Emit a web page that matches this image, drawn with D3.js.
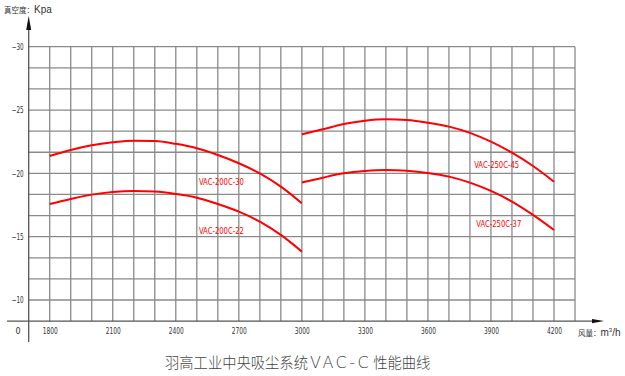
<!DOCTYPE html>
<html>
<head>
<meta charset="utf-8">
<script src="https://cdn.jsdelivr.net/npm/d3@7"></script>
<style>
html,body{margin:0;padding:0;background:#fff;}
svg{display:block;}
</style>
</head>
<body>
<svg id="chart" width="625" height="376"></svg>
<script>
// ---- data ----
const flow200 = [1800,1900,2000,2100,2200,2300,2400,2500,2600,2700,2800,2900,3000];
const vac200_30 = [-21.37,-21.85,-22.22,-22.45,-22.58,-22.56,-22.33,-21.98,-21.45,-20.8,-20.0,-18.95,-17.64];
const vac200_22 = [-17.58,-17.98,-18.32,-18.53,-18.61,-18.56,-18.37,-18.08,-17.58,-16.98,-16.19,-15.14,-13.82];
const flow250 = [3000,3100,3200,3300,3400,3500,3600,3700,3800,3900,4000,4100,4200];
const vac250_45 = [-23.09,-23.48,-23.9,-24.16,-24.27,-24.21,-24.0,-23.69,-23.2,-22.5,-21.63,-20.58,-19.34];
const vac250_37 = [-19.27,-19.66,-20.0,-20.19,-20.27,-20.21,-20.03,-19.74,-19.27,-18.61,-17.77,-16.72,-15.53];
const seriesNames = ["VAC-200C-30","VAC-200C-22","VAC-250C-45","VAC-250C-37"];
const xTicks = [1800,2100,2400,2700,3000,3300,3600,3900,4200];
const yTicks = [-30,-25,-20,-15,-10];
const yLabel = "真空度：";
const yUnit = "Kpa";
const xLabel = "风量：";
const titleA = "羽高工业中央吸尘系统";
const titleB = "VAC-C";
const titleC = "性能曲线";

const svg = d3.select("#chart");
const x = d3.scaleLinear().domain([1700,4300]).range([28.7,575]);
const y = d3.scaleLinear().domain([-30,-10]).range([46.7,300]);
const yBottom = -30 + 13*5/3;
const narrow = "'Liberation Sans Narrow','DejaVu Sans Condensed',sans-serif";

// grid
const g = svg.append("g");
const vLines = d3.range(1800, 4301, 100);
g.selectAll("line.v").data(vLines).join("line")
  .attr("x1", d=>x(d)).attr("x2", d=>x(d))
  .attr("y1", y(-30)).attr("y2", y(yBottom))
  .attr("stroke", "#8a8a8a").attr("stroke-width", 1.3);
const hLines = d3.range(0, 13).map(i => -30 + i*5/3);
g.selectAll("line.h").data(hLines).join("line")
  .attr("x1", x(1700)).attr("x2", x(4300))
  .attr("y1", d=>y(d)).attr("y2", d=>y(d))
  .attr("stroke", "#8a8a8a").attr("stroke-width", 1.3);

// axes lines
svg.append("line").attr("x1", 7).attr("x2", 596).attr("y1", y(yBottom)).attr("y2", y(yBottom))
  .attr("stroke", "#555").attr("stroke-width", 1.3);
svg.append("line").attr("x1", x(1700)).attr("x2", x(1700)).attr("y1", 28).attr("y2", 342)
  .attr("stroke", "#555").attr("stroke-width", 1.3);
// arrows
svg.append("path").attr("d", `M${x(1700)},16 L${x(1700)-2.5},30 L${x(1700)+2.5},30 Z`).attr("fill", "#111");
svg.append("path").attr("d", `M604,${y(yBottom)} L592,${y(yBottom)-2.2} L592,${y(yBottom)+2.2} Z`).attr("fill", "#111");

// x axis ticks
const xAxis = d3.axisBottom(x).tickValues(xTicks).tickSize(0).tickPadding(6).tickFormat(d3.format("d"));
const xg = svg.append("g").attr("transform", `translate(0,${y(yBottom)+1})`).call(xAxis);
xg.select(".domain").remove();
xg.selectAll("text").attr("font-family", narrow).attr("font-size", 9).attr("fill", "#333")
  .attr("textLength", 15).attr("lengthAdjust", "spacingAndGlyphs");

// y axis ticks
const yAxis = d3.axisLeft(y).tickValues(yTicks).tickSize(0).tickPadding(5);
const yg = svg.append("g").attr("transform", `translate(${x(1700)},0)`).call(yAxis);
yg.select(".domain").remove();
yg.selectAll("text").attr("font-family", narrow).attr("font-size", 9).attr("fill", "#333")
  .attr("textLength", 12).attr("lengthAdjust", "spacingAndGlyphs");

svg.append("text").attr("x", 18).attr("y", 334).attr("text-anchor", "middle")
  .attr("font-family", narrow).attr("font-size", 9).attr("fill", "#333").text("0");

// axis titles
const yt = svg.append("text").attr("x", 4).attr("y", 13).attr("fill", "#333");
yt.append("tspan").attr("font-family", "'Noto Sans CJK SC'").attr("font-size", 7.5).text(yLabel);
yt.append("tspan").attr("font-family", "'Liberation Sans','Roboto',sans-serif").attr("font-size", 10).text(yUnit);

const xt = svg.append("text").attr("x", 578).attr("y", 336).attr("fill", "#333");
xt.append("tspan").attr("font-family", "'Noto Sans CJK SC'").attr("font-size", 7.5).text(xLabel);
xt.append("tspan").attr("font-family", "'Liberation Sans','Roboto',sans-serif").attr("font-size", 10).text("m");
xt.append("tspan").attr("font-family", "'Liberation Sans','Roboto',sans-serif").attr("font-size", 6).attr("dy", -4).text("3");
xt.append("tspan").attr("font-family", "'Liberation Sans','Roboto',sans-serif").attr("font-size", 10).attr("dy", 4).text("/h");

// curves
const line = d3.line().x(d=>x(d[0])).y(d=>y(d[1])).curve(d3.curveMonotoneX);
const series = [
  {name: seriesNames[0], xs: flow200, ys: vac200_30, lx: 2510, ly: -19.1},
  {name: seriesNames[1], xs: flow200, ys: vac200_22, lx: 2510, ly: -15.2},
  {name: seriesNames[2], xs: flow250, ys: vac250_45, lx: 3820, ly: -20.4},
  {name: seriesNames[3], xs: flow250, ys: vac250_37, lx: 3830, ly: -15.75}
];
series.forEach(s => {
  svg.append("path").datum(s.xs.map((v,i)=>[v, s.ys[i]]))
    .attr("d", line).attr("fill", "none").attr("stroke", "#ff0000").attr("stroke-width", 2);
  svg.append("text").attr("x", x(s.lx)).attr("y", y(s.ly))
    .attr("font-family", narrow).attr("font-size", 9.5).attr("fill", "#ff0000")
    .attr("textLength", 45).attr("lengthAdjust", "spacingAndGlyphs").text(s.name);
});

// title
const tt = svg.append("text").attr("x", 165).attr("y", 368).attr("fill", "#444")
  .attr("font-family", "'Noto Sans CJK SC'").attr("font-size", 14.3).attr("font-weight", 300);
tt.append("tspan").text(titleA);
tt.append("tspan").attr("font-family", "'DejaVu Sans','Noto Sans',sans-serif").attr("font-weight", 200)
  .attr("font-size", 16).attr("letter-spacing", 2.5).attr("dx", 2).text(titleB);
tt.append("tspan").attr("dx", 2).text(titleC);
</script>
</body>
</html>
